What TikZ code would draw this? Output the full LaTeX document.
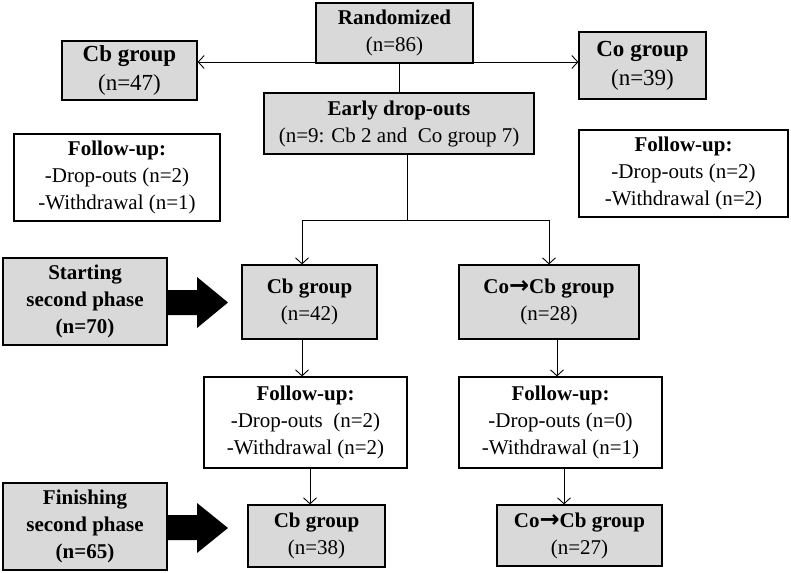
\documentclass[tikz,border=0pt]{standalone}
\usepackage{fontspec}
\setmainfont{Liberation Serif}
\newfontfamily\arrowfont{DejaVu Sans}
\usetikzlibrary{arrows.meta}
\definecolor{boxgray}{RGB}{217,217,217}
\newcommand{\bigarr}{{\arrowfont\bfseries\fontsize{24}{27}\selectfont →}}
\begin{document}
\begin{tikzpicture}[x=1pt,y=-1pt,
  base/.style={draw=black, line width=1.2pt, inner sep=0pt, align=center,
    font=\fontsize{21}{27}\selectfont},
  gbox/.style={base, fill=boxgray},
  wbox/.style={base, fill=white},
  big/.style={font=\fontsize{23}{29}\selectfont},
  arr/.style={-{Straight Barb[length=6pt,width=13pt,line width=0.9pt]}, line width=0.9pt},
  ln/.style={line width=0.9pt},
  blockarrow/.style={fill=black}]
\fill[white] (0,0) rectangle (791,572);
\useasboundingbox (0,0) rectangle (791,572);

\node[gbox, minimum width=157pt, minimum height=60pt] (rand) at (394.5,33) {\textbf{Randomized}\\(n=86)};
\node[gbox, big, minimum width=135pt, minimum height=59pt] (cbtop) at (129.5,70.5) {\textbf{Cb group}\\(n=47)};
\node[gbox, big, minimum width=127pt, minimum height=67pt] (cotop) at (642.5,65.5) {\textbf{Co group}\\(n=39)};
\node[gbox, minimum width=270pt, minimum height=61pt] (early) at (399,123.5) {\textbf{Early drop-outs}\\(n=9: Cb 2 and\ \ Co group 7)};
\node[wbox, minimum width=206pt, minimum height=87pt] (ful) at (117,177.5) {\textbf{Follow-up:}\\-Drop-outs (n=2)\\-Withdrawal (n=1)};
\node[wbox, minimum width=209pt, minimum height=87pt] (fur) at (683.5,173.5) {\textbf{Follow-up:}\\-Drop-outs (n=2)\\-Withdrawal (n=2)};

\node[gbox, minimum width=164pt, minimum height=87pt] (start) at (85,301.5) {\textbf{Starting}\\\textbf{second phase}\\\textbf{(n=70)}};
\node[gbox, minimum width=135pt, minimum height=74pt] (cb42) at (309.5,302) {\textbf{Cb group}\\(n=42)};
\node[gbox, minimum width=180pt, minimum height=74pt] (co28) at (549,302) {\textbf{Co\bigarr Cb group}\\(n=28)};
\node[wbox, minimum width=203pt, minimum height=91pt] (fum) at (305.5,422.5) {\textbf{Follow-up:}\\-Drop-outs\ \ (n=2)\\-Withdrawal (n=2)};
\node[wbox, minimum width=203pt, minimum height=91pt] (fum2) at (560.5,422.5) {\textbf{Follow-up:}\\-Drop-outs (n=0)\\-Withdrawal (n=1)};
\node[gbox, minimum width=164pt, minimum height=87pt] (finish) at (85,526.5) {\textbf{Finishing}\\\textbf{second phase}\\\textbf{(n=65)}};
\node[gbox, minimum width=137pt, minimum height=62pt] (cb38) at (316.5,536) {\textbf{Cb group}\\(n=38)};
\node[gbox, minimum width=165pt, minimum height=61pt] (co27) at (579.5,535.5) {\textbf{Co\bigarr Cb group}\\(n=27)};

% top connectors
\coordinate (hl) at (316,62);
\coordinate (hr) at (473,62);
\draw[arr] (hl) -- (cbtop.east |- hl);
\draw[arr] (hr) -- (cotop.west |- hr);
\draw[ln] (rand.south -| early.north) -- (early.north);

% split
\coordinate (j) at (407,220);
\coordinate (jl) at (302,220);
\coordinate (jr) at (549,220);
\draw[ln] (early.south -| j) -- (j);
\draw[ln] (jl) -- (jr);
\draw[arr] (jl) -- (cb42.north -| jl);
\draw[arr] (jr) -- (co28.north -| jr);

% lower chains
\coordinate (c1) at (302,0);
\coordinate (c2) at (310,0);
\coordinate (c3) at (557,0);
\coordinate (c4) at (564,0);
\draw[arr] (cb42.south -| c1) -- (fum.north -| c1);
\draw[arr] (fum.south -| c2) -- (cb38.north -| c2);
\draw[arr] (co28.south -| c3) -- (fum2.north -| c3);
\draw[arr] (fum2.south -| c4) -- (co27.north -| c4);

% block arrows
\fill[blockarrow] (167,290) -- (197,290) -- (197,277) -- (228,302.5) -- (197,328) -- (197,315) -- (167,315) -- cycle;
\fill[blockarrow] (167,515) -- (197,515) -- (197,503) -- (228,528) -- (197,553) -- (197,540) -- (167,540) -- cycle;
\end{tikzpicture}
\end{document}
